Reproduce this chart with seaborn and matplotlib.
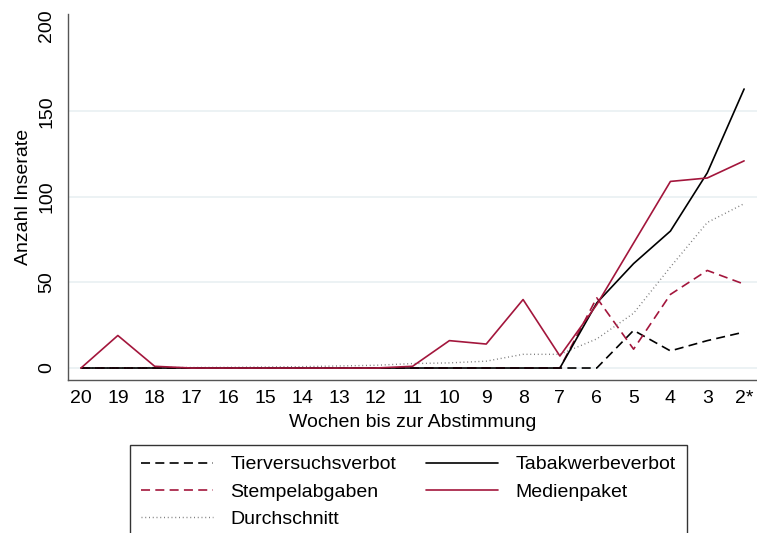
import matplotlib
matplotlib.use("Agg")
import matplotlib.pyplot as plt
import seaborn as sns
import numpy as np
import pandas as pd

# ---- data ----
weeks = ["20", "19", "18", "17", "16", "15", "14", "13", "12", "11",
         "10", "9", "8", "7", "6", "5", "4", "3", "2*"]
tierversuchsverbot = [0, 0, 0, 0, 0, 0, 0, 0, 0, 0, 0, 0, 0, 0, 0, 22, 10, 16, 21]
tabakwerbeverbot = [0, 0, 0, 0, 0, 0, 0, 0, 0, 0, 0, 0, 0, 0, 38, 61, 80, 114, 163]
stempelabgaben = [0, 0, 0, 0, 0, 0, 0, 0, 0, 0, 0, 0, 0, 0, 41, 11, 43, 57, 49]
medienpaket = [0, 19, 1, 0, 0, 0, 0, 0, 0, 1, 16, 14, 40, 7, 37, 73, 109, 111, 121]
durchschnitt = [0, 0, 0.3, 0.3, 0.4, 0.6, 0.8, 1.2, 1.6, 2.6, 3, 4, 8, 8, 17, 32, 59, 85, 96]
yticks = [0, 50, 100, 150, 200]

sns.set_style("white")
plt.rcParams['font.family'] = ['Liberation Sans', 'DejaVu Sans']
plt.rcParams['lines.scale_dashes'] = False
plt.rcParams['text.color'] = 'black'
plt.rcParams['axes.labelcolor'] = 'black'

FS = 14
RED = "#A3163C"
series = [
    ("Tierversuchsverbot", tierversuchsverbot, "black", (0, (6.5, 3.8)), 1.2),
    ("Stempelabgaben", stempelabgaben, RED, (0, (6.5, 3.8)), 1.2),
    ("Durchschnitt", durchschnitt, "#7a7a7a", (0, (0.7, 2.0)), 1.0),
    ("Tabakwerbeverbot", tabakwerbeverbot, "black", "-", 1.2),
    ("Medienpaket", medienpaket, RED, "-", 1.2),
]

fig = plt.figure(figsize=(7.57, 5.33), dpi=100)
ax = fig.add_axes([68 / 757, (533 - 380) / 533, 1 - 68 / 757, (380 - 14) / 533])

xpos = np.arange(len(weeks))
for gy in [0, 50, 100, 150]:
    ax.axhline(gy, color="#e9f0f2", lw=1.2, zorder=0)

handles = []
for name, vals, col, ls, lw in series:
    df = pd.DataFrame({"x": xpos, "y": vals})
    sns.lineplot(data=df, x="x", y="y", ax=ax, color=col, lw=lw, zorder=3, legend=False)
    ln = ax.get_lines()[-1]
    ln.set_linestyle(ls)
    ln.set_label(name)
    handles.append(ln)
if ax.get_legend() is not None:
    ax.get_legend().remove()

ax.set_xlim(-0.353, 18.35)
ax.set_ylim(-7.0, 206.8)
ax.set_xticks(xpos)
ax.set_xticklabels(weeks)
ax.set_yticks(yticks)
ax.set_yticklabels([str(v) for v in yticks], rotation=90, va="center")

for s in ["top", "right"]:
    ax.spines[s].set_visible(False)
for s in ["left", "bottom"]:
    ax.spines[s].set_color("#555555")
    ax.spines[s].set_linewidth(1.0)
ax.tick_params(axis="both", direction="out", length=4, width=1.0, color="#555555",
               labelsize=FS, labelcolor="black")
ax.tick_params(axis="x", pad=3)
ax.tick_params(axis="y", pad=5)

ax.set_xlabel("Wochen bis zur Abstimmung", fontsize=FS, labelpad=5)
ax.set_ylabel("Anzahl Inserate", fontsize=FS, labelpad=5)

leg = fig.legend(handles=handles, ncol=2, loc="upper left",
                 bbox_to_anchor=(130 / 757, 1 - 445 / 533), borderaxespad=0,
                 frameon=True, fancybox=False, fontsize=FS,
                 handlelength=3.7, handletextpad=0.9, columnspacing=1.55,
                 labelspacing=0.5, borderpad=0.55)
leg.get_frame().set_edgecolor("black")
leg.get_frame().set_linewidth(1.0)
for t in leg.get_texts():
    t.set_color("black")

fig.savefig("out.png", dpi=100)
